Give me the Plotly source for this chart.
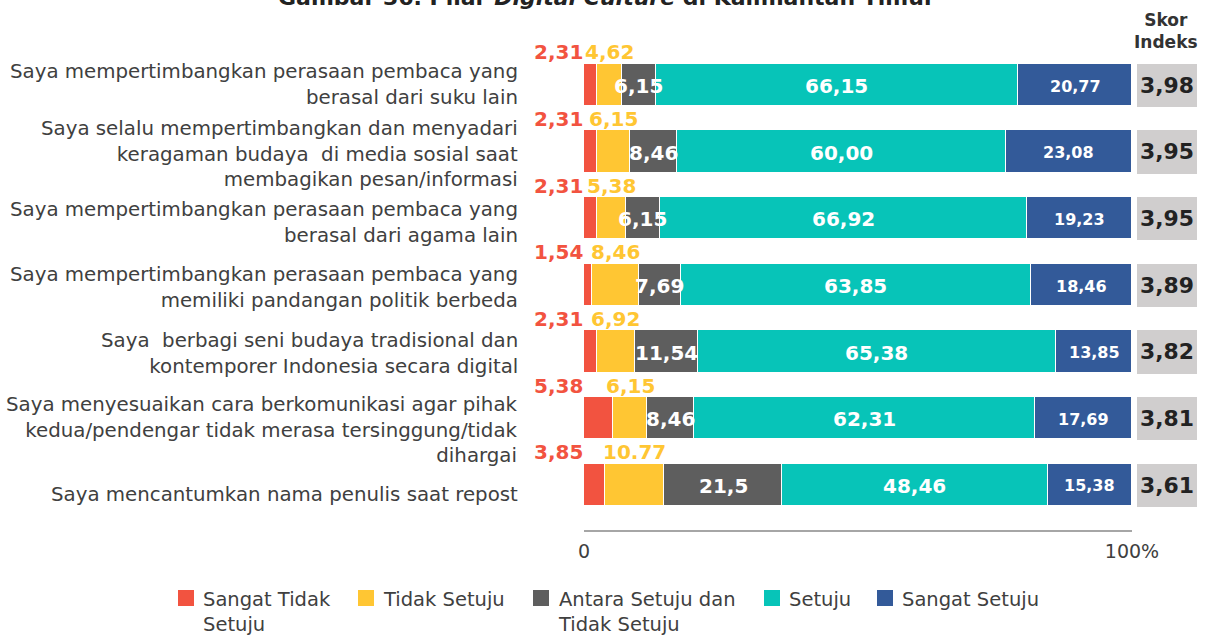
import plotly.graph_objects as go

# ---- data -------------------------------------------------------------
statements = [
    "Saya mempertimbangkan perasaan pembaca yang<br>berasal dari suku lain",
    "Saya selalu mempertimbangkan dan menyadari<br>keragaman budaya  di media sosial saat<br>membagikan pesan/informasi",
    "Saya mempertimbangkan perasaan pembaca yang<br>berasal dari agama lain",
    "Saya mempertimbangkan perasaan pembaca yang<br>memiliki pandangan politik berbeda",
    "Saya  berbagi seni budaya tradisional dan<br>kontemporer Indonesia secara digital",
    "Saya menyesuaikan cara berkomunikasi agar pihak<br>kedua/pendengar tidak merasa tersinggung/tidak<br>dihargai",
    "Saya mencantumkan nama penulis saat repost",
]
series_names = ["Sangat Tidak<br>Setuju", "Tidak Setuju", "Antara Setuju dan<br>Tidak Setuju",
                "Setuju", "Sangat Setuju"]
sangat_tidak_setuju = [2.31, 2.31, 2.31, 1.54, 2.31, 5.38, 3.85]
tidak_setuju = [4.62, 6.15, 5.38, 8.46, 6.92, 6.15, 10.77]
antara = [6.15, 8.46, 6.15, 7.69, 11.54, 8.46, 21.5]
setuju = [66.15, 60.00, 66.92, 63.85, 65.38, 62.31, 48.46]
sangat_setuju = [20.77, 23.08, 19.23, 18.46, 13.85, 17.69, 15.38]
skor_indeks = [3.98, 3.95, 3.95, 3.89, 3.82, 3.81, 3.61]
label_texts = [
    ["2,31", "2,31", "2,31", "1,54", "2,31", "5,38", "3,85"],
    ["4,62", "6,15", "5,38", "8,46", "6,92", "6,15", "10.77"],
    ["6,15", "8,46", "6,15", "7,69", "11,54", "8,46", "21,5"],
    ["66,15", "60,00", "66,92", "63,85", "65,38", "62,31", "48,46"],
    ["20,77", "23,08", "19,23", "18,46", "13,85", "17,69", "15,38"],
]

# ---- styling ------------------------------------------------------------
W, H = 1205, 635
colors = ["#F25340", "#FFC633", "#5E5E5E", "#07C4B8", "#335A99"]
FONT = "DejaVu Sans"
TXT = "#404040"


def px(y):
    """pixel row -> paper coordinate"""
    return (H - y) / H


series = [sangat_tidak_setuju, tidak_setuju, antara, setuju, sangat_setuju]
rows = list(range(len(statements)))
BAR_W = 0.65

fig = go.Figure()
for name, vals, col in zip(series_names, series, colors):
    fig.add_trace(go.Bar(
        y=rows, x=vals, orientation="h", name=name.replace("<br>", " "),
        marker=dict(color=col, line=dict(color="white", width=1.5)),
        width=BAR_W, showlegend=False, hoverinfo="x",
    ))

# score boxes on their own axis
fig.add_trace(go.Bar(
    y=rows, x=[1] * len(rows), orientation="h", xaxis="x2", yaxis="y",
    marker=dict(color="#D0CECE", line=dict(width=0)), width=BAR_W,
    text=[f"{v:.2f}".replace(".", ",") for v in skor_indeks],
    textposition="inside", insidetextanchor="middle", textangle=0,
    textfont=dict(family=FONT, size=22, color="#222222", weight="bold"),
    showlegend=False, hoverinfo="skip",
))

annotations = []
# value labels
for r in rows:
    starts = []
    acc = 0
    for s in series:
        starts.append(acc)
        acc += s[r]
    top = r - BAR_W / 2
    # the two thin segments carry their labels above the bar
    annotations.append(dict(x=0, y=top, xref="x", yref="y", text=label_texts[0][r],
                            xanchor="right", yanchor="bottom", showarrow=False, xshift=1, yshift=-3,
                            font=dict(family=FONT, size=20, color=colors[0], weight="bold")))
    annotations.append(dict(x=starts[1] + tidak_setuju[r] / 2, y=top, xref="x", yref="y",
                            text=label_texts[1][r], xanchor="center", yanchor="bottom",
                            showarrow=False, yshift=-3,
                            font=dict(family=FONT, size=20, color=colors[1], weight="bold")))
    for k, size in ((2, 20), (3, 20), (4, 16)):
        annotations.append(dict(x=starts[k] + series[k][r] / 2, y=r, xref="x", yref="y",
                                text=label_texts[k][r], xanchor="center", yanchor="middle",
                                showarrow=False, yshift=-1,
                                font=dict(family=FONT, size=size, color="white", weight="bold")))

# statement labels
label_shift = [1, -2, -4, -2, -2, -12, -10]
for r, (txt, sh) in enumerate(zip(statements, label_shift)):
    annotations.append(dict(x=520 / W, y=r, xref="paper", yref="y", text=txt, xanchor="right",
                            yanchor="middle", align="right", showarrow=False, yshift=sh,
                            font=dict(family=FONT, size=19.8, color=TXT)))

# header and title
annotations.append(dict(x=1166 / W, y=px(31), xref="paper", yref="paper", text="Skor<br>Indeks",
                        showarrow=False, xanchor="center", yanchor="middle", align="center",
                        font=dict(family=FONT, size=17, color="#333333", weight="bold")))
annotations.append(dict(x=606 / W, y=px(-3), xref="paper", yref="paper",
                        text="Gambar 36. Pilar <i>Digital Culture</i> di Kalimantan Timur",
                        showarrow=False, xanchor="center", yanchor="middle",
                        font=dict(family=FONT, size=22, color="#222222", weight="bold")))

# legend
legend_x = [178, 358, 533, 764, 877]
shapes = []
for name, col, lx in zip(series_names, colors, legend_x):
    shapes.append(dict(type="rect", xref="paper", yref="paper", x0=lx / W, x1=(lx + 16) / W,
                       y0=px(606), y1=px(590), fillcolor=col, line=dict(width=0)))
    annotations.append(dict(x=(lx + 23) / W, y=px(586), xref="paper", yref="paper", text=name,
                            xanchor="left", yanchor="top", align="left", showarrow=False,
                            font=dict(family=FONT, size=19.5, color=TXT)))

x0p, x1p = 584 / W, 1132 / W
fig.update_layout(
    width=W, height=H, margin=dict(l=0, r=0, t=0, b=0, autoexpand=False),
    paper_bgcolor="white", plot_bgcolor="white", barmode="stack", bargap=0,
    showlegend=False,
    xaxis=dict(domain=[x0p, x1p], range=[0, 100], anchor="free", position=px(531),
               automargin=False,
               showgrid=False, zeroline=False, showline=True, linecolor="#A6A6A6", linewidth=1.5,
               ticks="inside", ticklen=6, tickcolor="#A6A6A6", tickwidth=1.5,
               tickvals=[0, 100], ticktext=["0", "100%"], ticklabelstandoff=3,
               tickfont=dict(family=FONT, size=19, color=TXT)),
    xaxis2=dict(domain=[1137 / W, 1197 / W], range=[0, 1], anchor="y", visible=False,
                automargin=False),
    yaxis=dict(domain=[px(518.3), px(51.7)], range=[6.5, -0.5], visible=False, automargin=False),
    annotations=annotations, shapes=shapes,
)

fig.write_html("out.html")
